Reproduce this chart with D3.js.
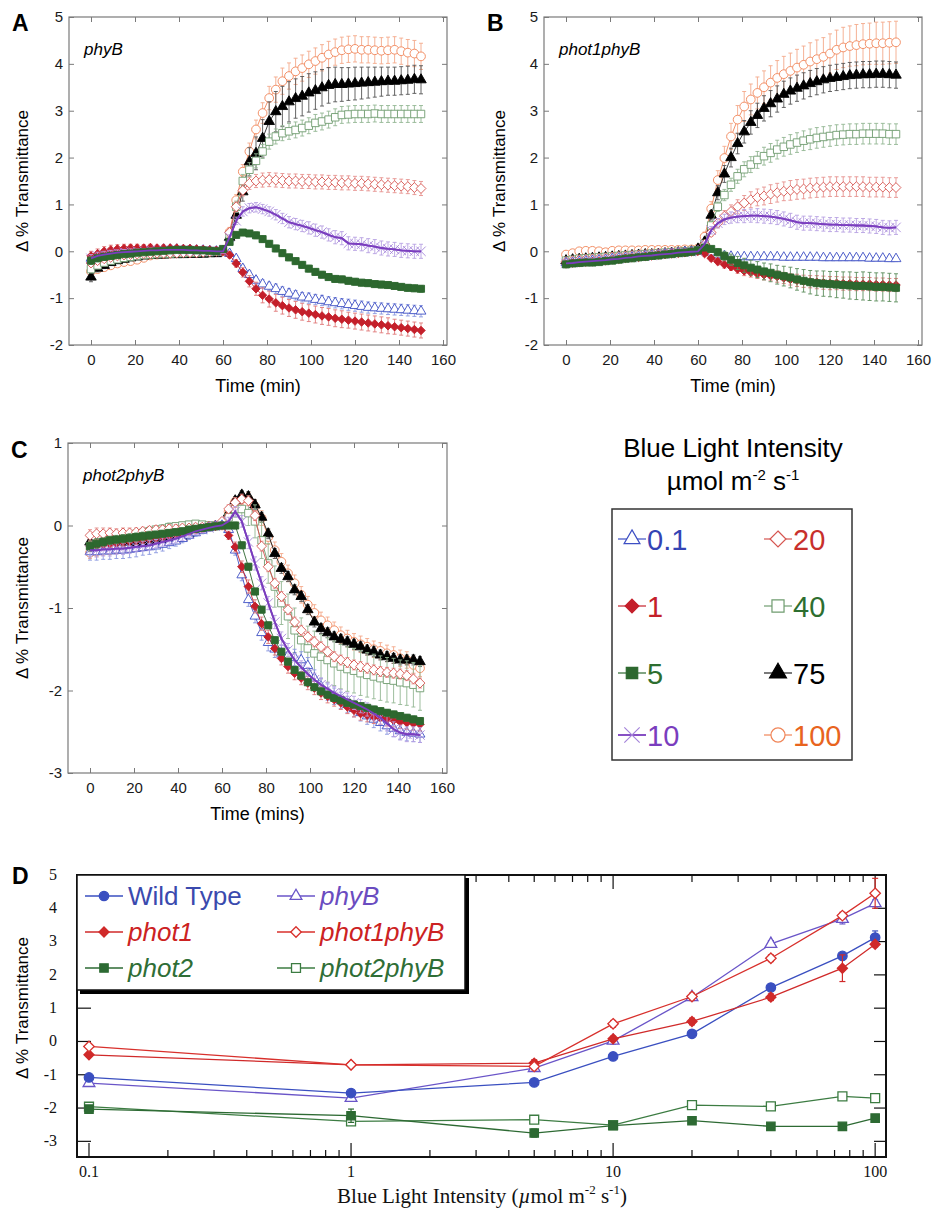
<!DOCTYPE html>
<html lang="en">
<head>
<meta charset="UTF-8">
<title>Blue light induced transmittance changes</title>
<script src="https://d3js.org/d3.v7.min.js"></script>
<style>
  body { margin: 0; background: #fff; }
  svg { display: block; }
</style>
</head>
<body>
<svg id="chart" width="940" height="1212"></svg>
<script>
// ---------- data ----------
const times = [0,3,6,9,12,15,18,21,24,27,30,33,36,39,42,45,48,51,54,57,
  60,63,66,69,72,75,78,81,84,87,90,93,96,99,102,105,108,111,114,117,
  120,123,126,129,132,135,138,141,144,147,150];
const timeTicks = [0,20,40,60,80,100,120,140,160];
const intensities = ["0.1","1","5","10","20","40","75","100"];

// panel A: phyB
const phyB_01 = [-0.15,-0.1,-0.07,-0.05,-0.03,-0.02,0,0.01,0.02,0.03,0.03,0.04,0.04,0.04,0.03,0.03,0.02,0.02,0.01,0,
  0,
  -0.05,-0.16,-0.37,-0.5,-0.62,-0.7,-0.75,-0.8,-0.86,-0.9,-0.94,-0.98,-1.0,-1.03,-1.05,-1.08,-1.1,-1.12,-1.14,-1.16,-1.18,-1.2,-1.21,-1.22,-1.23,-1.24,-1.25,-1.26,-1.27,-1.28];
const phyB_1 = [-0.1,-0.05,0,0.03,0.05,0.06,0.07,0.07,0.07,0.08,0.07,0.07,0.07,0.07,0.06,0.06,0.05,0.04,0.03,0.02,
  0,
  -0.08,-0.26,-0.45,-0.64,-0.8,-0.94,-1.02,-1.1,-1.16,-1.21,-1.25,-1.29,-1.32,-1.35,-1.38,-1.4,-1.43,-1.45,-1.47,-1.49,-1.51,-1.53,-1.55,-1.57,-1.59,-1.61,-1.63,-1.65,-1.67,-1.69];
const phyB_5 = [-0.2,-0.15,-0.12,-0.1,-0.08,-0.06,-0.05,-0.03,-0.02,-0.01,0,0.01,0.02,0.03,0.03,0.03,0.02,0.02,0.01,0,
  0.05,
  0.2,0.35,0.4,0.38,0.34,0.26,0.16,0.06,-0.04,-0.13,-0.21,-0.29,-0.37,-0.44,-0.5,-0.55,-0.59,-0.6,-0.63,-0.65,-0.67,-0.68,-0.7,-0.71,-0.72,-0.74,-0.76,-0.78,-0.79,-0.8];
const phyB_10 = [-0.15,-0.1,-0.07,-0.05,-0.03,-0.02,-0.01,0,0.01,0.02,0.02,0.03,0.03,0.03,0.03,0.02,0.02,0.01,0.01,0,
  0,
  0.3,0.65,0.85,0.92,0.94,0.9,0.85,0.78,0.7,0.62,0.58,0.54,0.5,0.45,0.41,0.35,0.3,0.28,0.17,0.16,0.15,0.12,0.1,0.07,0.05,0.04,0.02,0.01,0,0];
const phyB_20 = [-0.25,-0.2,-0.16,-0.13,-0.1,-0.08,-0.07,-0.06,-0.05,-0.05,-0.04,-0.04,-0.04,-0.04,-0.03,-0.03,-0.03,-0.02,-0.01,0,
  0,
  0.4,0.95,1.3,1.45,1.5,1.52,1.53,1.52,1.51,1.5,1.5,1.49,1.49,1.48,1.48,1.47,1.47,1.46,1.46,1.45,1.45,1.44,1.43,1.42,1.41,1.4,1.39,1.38,1.36,1.34];
const phyB_40 = [-0.38,-0.3,-0.24,-0.2,-0.17,-0.14,-0.12,-0.1,-0.08,-0.07,-0.06,-0.05,-0.05,-0.04,-0.04,-0.03,-0.03,-0.02,-0.02,-0.01,
  0,
  0.35,0.95,1.5,1.74,1.93,2.13,2.34,2.45,2.52,2.56,2.59,2.63,2.68,2.74,2.77,2.81,2.86,2.91,2.92,2.93,2.93,2.93,2.94,2.93,2.93,2.93,2.93,2.93,2.93,2.93];
const phyB_75 = [-0.55,-0.36,-0.3,-0.24,-0.2,-0.17,-0.14,-0.12,-0.1,-0.09,-0.08,-0.08,-0.07,-0.07,-0.07,-0.06,-0.06,-0.06,-0.05,-0.05,
  0,
  0.3,0.77,1.27,1.91,2.09,2.41,2.77,2.98,3.09,3.19,3.26,3.31,3.38,3.43,3.49,3.54,3.56,3.56,3.57,3.58,3.59,3.6,3.61,3.62,3.63,3.63,3.64,3.65,3.67,3.66];
const phyB_100 = [-0.43,-0.38,-0.34,-0.3,-0.26,-0.23,-0.21,-0.18,-0.14,-0.09,-0.07,-0.06,-0.05,-0.04,-0.04,-0.03,-0.03,-0.02,-0.01,-0.01,
  0,
  0.41,1.09,1.7,2.13,2.6,2.95,3.27,3.45,3.63,3.74,3.84,3.91,3.99,4.06,4.13,4.2,4.25,4.29,4.31,4.32,4.3,4.3,4.29,4.28,4.29,4.3,4.27,4.24,4.22,4.16];

const phyB_01_err = [0.08,0.07,0.07,0.06,0.06,0.06,0.05,0.05,0.05,0.05,0.05,0.05,0.05,0.05,0.05,0.05,0.05,0.04,0.04,0.04,
  0.04,
  0.05,0.06,0.07,0.08,0.08,0.09,0.09,0.1,0.1,0.1,0.1,0.1,0.11,0.11,0.11,0.11,0.11,0.11,0.12,0.12,0.12,0.12,0.12,0.12,0.12,0.12,0.12,0.12,0.12,0.12];
const phyB_1_err = [0.1,0.1,0.1,0.1,0.09,0.09,0.08,0.08,0.07,0.07,0.06,0.06,0.06,0.05,0.05,0.05,0.05,0.05,0.05,0.05,
  0.05,
  0.06,0.08,0.1,0.12,0.14,0.16,0.17,0.18,0.18,0.18,0.18,0.18,0.18,0.18,0.18,0.18,0.18,0.18,0.17,0.17,0.17,0.17,0.17,0.17,0.17,0.16,0.16,0.16,0.16,0.16];
const phyB_5_err = [0.08,0.07,0.07,0.06,0.06,0.05,0.05,0.05,0.05,0.05,0.05,0.05,0.05,0.05,0.05,0.05,0.04,0.04,0.04,0.04,
  0.04,
  0.05,0.06,0.06,0.06,0.07,0.07,0.07,0.07,0.07,0.07,0.07,0.07,0.07,0.07,0.07,0.07,0.07,0.07,0.07,0.07,0.07,0.07,0.07,0.07,0.07,0.07,0.07,0.07,0.07,0.07];
const phyB_10_err = [0.08,0.08,0.07,0.07,0.06,0.06,0.06,0.05,0.05,0.05,0.05,0.05,0.05,0.05,0.05,0.05,0.04,0.04,0.04,0.04,
  0.04,
  0.05,0.08,0.1,0.1,0.1,0.1,0.1,0.11,0.11,0.12,0.12,0.12,0.13,0.13,0.13,0.13,0.14,0.14,0.14,0.14,0.14,0.15,0.15,0.15,0.15,0.15,0.15,0.15,0.15,0.15];
const phyB_20_err = [0.07,0.07,0.06,0.06,0.06,0.05,0.05,0.05,0.05,0.05,0.05,0.05,0.05,0.05,0.05,0.04,0.04,0.04,0.04,0.04,
  0.04,
  0.08,0.1,0.12,0.13,0.14,0.15,0.15,0.15,0.15,0.15,0.15,0.15,0.15,0.15,0.15,0.15,0.15,0.15,0.15,0.15,0.15,0.15,0.15,0.15,0.15,0.15,0.15,0.15,0.15,0.15];
const phyB_40_err = [0.08,0.07,0.07,0.06,0.06,0.06,0.05,0.05,0.05,0.05,0.05,0.05,0.05,0.05,0.05,0.05,0.04,0.04,0.04,0.04,
  0.04,
  0.1,0.12,0.14,0.15,0.15,0.15,0.16,0.16,0.16,0.17,0.17,0.17,0.17,0.18,0.18,0.18,0.18,0.18,0.18,0.18,0.18,0.18,0.18,0.18,0.18,0.18,0.18,0.18,0.18,0.18];
const phyB_75_err = [0.1,0.08,0.07,0.06,0.06,0.05,0.05,0.05,0.05,0.05,0.05,0.05,0.05,0.05,0.05,0.05,0.04,0.04,0.04,0.04,
  0.04,
  0.1,0.15,0.2,0.3,0.35,0.4,0.42,0.43,0.43,0.43,0.42,0.42,0.41,0.4,0.39,0.38,0.37,0.36,0.35,0.35,0.34,0.33,0.32,0.31,0.3,0.3,0.3,0.3,0.3,0.3];
const phyB_100_err = [0.08,0.07,0.07,0.06,0.06,0.05,0.05,0.05,0.05,0.05,0.05,0.05,0.05,0.05,0.05,0.05,0.04,0.04,0.04,0.04,
  0.04,
  0.1,0.12,0.15,0.18,0.2,0.22,0.25,0.27,0.28,0.28,0.28,0.28,0.28,0.28,0.28,0.28,0.28,0.28,0.28,0.28,0.28,0.28,0.28,0.28,0.28,0.28,0.28,0.28,0.28,0.28];

// panel B: phot1phyB
const phot1phyB_01 = [-0.25,-0.24,-0.22,-0.21,-0.2,-0.19,-0.18,-0.16,-0.15,-0.14,-0.13,-0.12,-0.1,-0.09,-0.08,-0.06,-0.05,-0.04,-0.02,-0.01,
  0,
  0.05,-0.02,-0.08,-0.1,-0.11,-0.12,-0.12,-0.12,-0.12,-0.12,-0.12,-0.12,-0.13,-0.13,-0.13,-0.13,-0.13,-0.13,-0.14,-0.14,-0.14,-0.14,-0.14,-0.14,-0.14,-0.15,-0.15,-0.15,-0.16,-0.16];
const phot1phyB_1 = [-0.27,-0.25,-0.24,-0.23,-0.22,-0.21,-0.2,-0.18,-0.17,-0.15,-0.14,-0.13,-0.11,-0.1,-0.08,-0.07,-0.05,-0.04,-0.03,-0.01,
  0,
  -0.05,-0.15,-0.22,-0.28,-0.33,-0.38,-0.42,-0.45,-0.48,-0.5,-0.52,-0.54,-0.57,-0.6,-0.62,-0.64,-0.65,-0.66,-0.67,-0.68,-0.68,-0.69,-0.69,-0.7,-0.7,-0.7,-0.71,-0.71,-0.72,-0.72];
const phot1phyB_5 = [-0.28,-0.26,-0.25,-0.24,-0.24,-0.23,-0.21,-0.2,-0.18,-0.16,-0.15,-0.13,-0.12,-0.1,-0.09,-0.07,-0.06,-0.04,-0.03,-0.01,
  0.02,
  0.08,0.05,-0.02,-0.1,-0.18,-0.25,-0.3,-0.35,-0.39,-0.43,-0.46,-0.5,-0.53,-0.56,-0.6,-0.63,-0.66,-0.68,-0.69,-0.7,-0.71,-0.72,-0.73,-0.74,-0.74,-0.75,-0.76,-0.76,-0.77,-0.78];
const phot1phyB_10 = [-0.26,-0.25,-0.23,-0.22,-0.21,-0.2,-0.19,-0.17,-0.16,-0.14,-0.13,-0.11,-0.1,-0.09,-0.07,-0.06,-0.05,-0.03,-0.02,-0.01,
  0,
  0.15,0.45,0.6,0.68,0.72,0.74,0.75,0.76,0.76,0.75,0.74,0.72,0.69,0.66,0.62,0.6,0.6,0.59,0.58,0.57,0.57,0.56,0.56,0.55,0.55,0.54,0.53,0.51,0.5,0.51];
const phot1phyB_20 = [-0.22,-0.2,-0.18,-0.17,-0.16,-0.15,-0.14,-0.12,-0.11,-0.1,-0.09,-0.08,-0.07,-0.06,-0.05,-0.04,-0.03,-0.02,-0.01,0,
  0.02,
  0.15,0.4,0.6,0.75,0.85,0.95,1.03,1.1,1.15,1.18,1.22,1.25,1.28,1.3,1.32,1.33,1.35,1.36,1.37,1.38,1.38,1.38,1.38,1.38,1.38,1.37,1.37,1.37,1.36,1.36];
const phot1phyB_40 = [-0.2,-0.18,-0.16,-0.15,-0.14,-0.13,-0.12,-0.11,-0.1,-0.09,-0.08,-0.07,-0.06,-0.05,-0.04,-0.03,-0.02,-0.01,0,0.01,
  0.02,
  0.16,0.55,0.95,1.2,1.42,1.6,1.75,1.85,1.95,2.03,2.1,2.17,2.23,2.28,2.32,2.36,2.39,2.42,2.44,2.46,2.48,2.49,2.5,2.5,2.51,2.51,2.51,2.51,2.5,2.5];
const phot1phyB_75 = [-0.2,-0.18,-0.17,-0.16,-0.15,-0.14,-0.13,-0.12,-0.11,-0.1,-0.09,-0.08,-0.07,-0.07,-0.06,-0.05,-0.04,-0.03,-0.02,-0.01,
  0.05,
  0.2,0.77,1.25,1.65,2.0,2.3,2.55,2.75,2.9,3.05,3.15,3.25,3.35,3.42,3.48,3.53,3.58,3.62,3.66,3.69,3.71,3.73,3.75,3.76,3.77,3.77,3.78,3.78,3.77,3.76];
const phot1phyB_100 = [-0.07,-0.04,0,0.01,0.01,0,-0.02,0.01,0.02,0.02,0.02,0.02,0.03,0.03,0.03,0.03,0.03,0.03,0.04,0.04,
  0.06,
  0.31,0.91,1.52,1.99,2.45,2.81,3.09,3.24,3.38,3.5,3.6,3.7,3.78,3.85,3.92,3.98,4.05,4.1,4.15,4.22,4.3,4.35,4.38,4.4,4.42,4.43,4.44,4.44,4.45,4.46];

const phot1phyB_01_err = [0.05,0.05,0.05,0.05,0.05,0.05,0.05,0.05,0.05,0.05,0.04,0.04,0.04,0.04,0.04,0.04,0.04,0.04,0.04,0.04,
  0.04,
  0.04,0.04,0.05,0.05,0.05,0.05,0.05,0.05,0.05,0.05,0.05,0.05,0.05,0.05,0.05,0.05,0.05,0.05,0.06,0.06,0.06,0.06,0.06,0.06,0.06,0.06,0.06,0.06,0.06,0.06];
const phot1phyB_1_err = [0.05,0.05,0.05,0.05,0.05,0.05,0.05,0.05,0.05,0.05,0.04,0.04,0.04,0.04,0.04,0.04,0.04,0.04,0.04,0.04,
  0.04,
  0.05,0.06,0.07,0.08,0.08,0.09,0.1,0.1,0.1,0.11,0.11,0.12,0.12,0.12,0.13,0.13,0.13,0.14,0.14,0.14,0.14,0.14,0.14,0.14,0.14,0.14,0.14,0.14,0.14,0.14];
const phot1phyB_5_err = [0.06,0.06,0.06,0.05,0.05,0.05,0.05,0.05,0.05,0.05,0.04,0.04,0.04,0.04,0.04,0.04,0.04,0.04,0.04,0.04,
  0.04,
  0.05,0.06,0.08,0.1,0.12,0.14,0.15,0.16,0.17,0.18,0.19,0.2,0.21,0.22,0.23,0.24,0.25,0.26,0.27,0.27,0.28,0.28,0.29,0.29,0.3,0.3,0.3,0.3,0.3,0.3];
const phot1phyB_10_err = [0.05,0.05,0.05,0.05,0.05,0.05,0.05,0.05,0.05,0.05,0.04,0.04,0.04,0.04,0.04,0.04,0.04,0.04,0.04,0.04,
  0.04,
  0.05,0.08,0.1,0.11,0.12,0.13,0.14,0.14,0.15,0.15,0.15,0.15,0.15,0.15,0.15,0.15,0.15,0.15,0.15,0.15,0.15,0.15,0.15,0.15,0.15,0.15,0.15,0.15,0.15,0.15];
const phot1phyB_20_err = [0.05,0.05,0.05,0.05,0.05,0.05,0.05,0.05,0.05,0.05,0.04,0.04,0.04,0.04,0.04,0.04,0.04,0.04,0.04,0.04,
  0.04,
  0.05,0.08,0.1,0.12,0.14,0.15,0.16,0.17,0.18,0.19,0.2,0.2,0.2,0.21,0.21,0.21,0.21,0.21,0.21,0.21,0.21,0.21,0.21,0.21,0.21,0.21,0.21,0.21,0.21,0.21];
const phot1phyB_40_err = [0.05,0.05,0.05,0.05,0.05,0.05,0.05,0.05,0.05,0.05,0.04,0.04,0.04,0.04,0.04,0.04,0.04,0.04,0.04,0.04,
  0.04,
  0.05,0.08,0.1,0.12,0.14,0.15,0.16,0.17,0.18,0.19,0.2,0.2,0.2,0.21,0.21,0.21,0.22,0.22,0.22,0.22,0.22,0.22,0.22,0.22,0.22,0.22,0.22,0.22,0.22,0.22];
const phot1phyB_75_err = [0.05,0.05,0.05,0.05,0.05,0.05,0.05,0.05,0.05,0.05,0.04,0.04,0.04,0.04,0.04,0.04,0.04,0.04,0.04,0.04,
  0.04,
  0.05,0.1,0.15,0.18,0.2,0.22,0.24,0.25,0.26,0.27,0.28,0.28,0.28,0.28,0.28,0.28,0.28,0.28,0.28,0.28,0.28,0.28,0.28,0.28,0.28,0.28,0.28,0.28,0.28,0.28];
const phot1phyB_100_err = [0.06,0.06,0.06,0.06,0.05,0.05,0.05,0.05,0.05,0.05,0.05,0.05,0.05,0.05,0.05,0.05,0.05,0.05,0.05,0.05,
  0.05,
  0.1,0.15,0.2,0.25,0.28,0.3,0.32,0.33,0.34,0.35,0.36,0.37,0.38,0.38,0.39,0.4,0.4,0.41,0.41,0.42,0.42,0.43,0.43,0.44,0.44,0.44,0.45,0.45,0.45,0.45];

// panel C: phot2phyB
const phot2phyB_01 = [-0.32,-0.32,-0.31,-0.31,-0.3,-0.3,-0.29,-0.28,-0.27,-0.26,-0.25,-0.23,-0.21,-0.19,-0.16,-0.12,-0.09,-0.06,-0.03,-0.01,
  0,
  -0.05,-0.3,-0.6,-0.9,-1.1,-1.3,-1.42,-1.5,-1.55,-1.58,-1.6,-1.63,-1.7,-1.85,-1.95,-2.02,-2.07,-2.12,-2.17,-2.22,-2.27,-2.31,-2.35,-2.39,-2.43,-2.46,-2.49,-2.51,-2.52,-2.53];
const phot2phyB_1 = [-0.25,-0.24,-0.23,-0.22,-0.21,-0.2,-0.19,-0.18,-0.17,-0.16,-0.15,-0.14,-0.13,-0.11,-0.09,-0.07,-0.05,-0.04,-0.02,-0.01,
  0,
  -0.12,-0.26,-0.5,-0.74,-0.98,-1.19,-1.35,-1.49,-1.61,-1.71,-1.79,-1.85,-1.91,-1.97,-2.03,-2.07,-2.11,-2.15,-2.2,-2.24,-2.28,-2.3,-2.32,-2.33,-2.35,-2.36,-2.38,-2.39,-2.4,-2.41];
const phot2phyB_5 = [-0.25,-0.22,-0.2,-0.18,-0.17,-0.16,-0.15,-0.14,-0.13,-0.12,-0.11,-0.1,-0.09,-0.08,-0.07,-0.05,-0.04,-0.03,-0.02,-0.01,
  0,
  0,0,-0.24,-0.5,-0.8,-1.02,-1.21,-1.39,-1.53,-1.65,-1.75,-1.82,-1.9,-1.96,-2.01,-2.05,-2.09,-2.12,-2.15,-2.17,-2.19,-2.21,-2.23,-2.25,-2.27,-2.29,-2.31,-2.33,-2.35,-2.37];
const phot2phyB_10 = [-0.3,-0.3,-0.29,-0.29,-0.28,-0.28,-0.27,-0.26,-0.25,-0.24,-0.22,-0.2,-0.18,-0.16,-0.13,-0.1,-0.07,-0.05,-0.03,-0.01,
  0,
  0.05,0.17,0.05,-0.2,-0.46,-0.7,-0.94,-1.17,-1.37,-1.51,-1.63,-1.72,-1.8,-1.87,-1.93,-1.98,-2.03,-2.07,-2.11,-2.15,-2.19,-2.23,-2.28,-2.33,-2.4,-2.47,-2.51,-2.53,-2.53,-2.54];
const phot2phyB_20 = [-0.12,-0.1,-0.1,-0.09,-0.1,-0.09,-0.09,-0.08,-0.07,-0.06,-0.05,-0.05,-0.04,-0.04,-0.03,-0.03,-0.02,-0.02,-0.01,0,
  0.05,
  0.2,0.28,0.32,0.3,0.12,-0.25,-0.5,-0.7,-0.86,-1.02,-1.17,-1.27,-1.35,-1.41,-1.47,-1.53,-1.59,-1.63,-1.66,-1.69,-1.71,-1.73,-1.75,-1.77,-1.78,-1.79,-1.8,-1.82,-1.86,-1.91];
const phot2phyB_40 = [-0.25,-0.22,-0.2,-0.18,-0.16,-0.14,-0.12,-0.1,-0.09,-0.07,-0.05,-0.04,-0.02,-0.01,0,0.01,0.02,0.01,0,0,
  0,
  0.1,0.2,0.2,0.15,0.05,-0.18,-0.46,-0.74,-0.94,-1.1,-1.27,-1.39,-1.49,-1.55,-1.59,-1.63,-1.67,-1.71,-1.74,-1.76,-1.79,-1.81,-1.83,-1.85,-1.87,-1.88,-1.9,-1.91,-1.93,-1.97];
const phot2phyB_75 = [-0.2,-0.21,-0.18,-0.17,-0.19,-0.2,-0.2,-0.21,-0.22,-0.2,-0.2,-0.18,-0.17,-0.16,-0.14,-0.1,-0.06,-0.04,-0.02,-0.01,
  0,
  0.15,0.3,0.37,0.35,0.25,0.1,-0.1,-0.34,-0.52,-0.62,-0.78,-0.86,-1.02,-1.17,-1.25,-1.3,-1.35,-1.38,-1.41,-1.44,-1.47,-1.51,-1.53,-1.57,-1.59,-1.61,-1.63,-1.63,-1.63,-1.65];
const phot2phyB_100 = [-0.33,-0.31,-0.29,-0.29,-0.28,-0.27,-0.26,-0.24,-0.22,-0.2,-0.18,-0.16,-0.14,-0.11,-0.09,-0.06,-0.04,-0.02,-0.01,0,
  0,
  0.17,0.29,0.32,0.32,0.23,0.09,-0.14,-0.3,-0.44,-0.58,-0.7,-0.84,-0.96,-1.06,-1.15,-1.21,-1.27,-1.33,-1.37,-1.41,-1.44,-1.47,-1.5,-1.52,-1.55,-1.57,-1.61,-1.63,-1.69,-1.73];

const phot2phyB_01_err = [0.1,0.1,0.1,0.1,0.1,0.1,0.1,0.1,0.09,0.09,0.08,0.08,0.07,0.06,0.05,0.05,0.04,0.04,0.04,0.04,
  0.04,
  0.05,0.06,0.07,0.08,0.08,0.09,0.1,0.1,0.1,0.1,0.1,0.1,0.1,0.1,0.1,0.1,0.1,0.1,0.1,0.1,0.1,0.1,0.1,0.1,0.1,0.1,0.1,0.1,0.1,0.1];
const phot2phyB_1_err = [0.06,0.06,0.06,0.06,0.05,0.05,0.05,0.05,0.05,0.05,0.05,0.05,0.05,0.04,0.04,0.04,0.04,0.04,0.04,0.04,
  0.04,
  0.05,0.06,0.07,0.08,0.08,0.08,0.08,0.08,0.08,0.08,0.08,0.08,0.08,0.08,0.08,0.08,0.08,0.08,0.08,0.08,0.08,0.08,0.08,0.08,0.08,0.08,0.08,0.08,0.08,0.08];
const phot2phyB_5_err = [0.06,0.06,0.05,0.05,0.05,0.05,0.05,0.05,0.05,0.05,0.04,0.04,0.04,0.04,0.04,0.04,0.04,0.04,0.04,0.04,
  0.04,
  0.04,0.04,0.04,0.04,0.04,0.04,0.04,0.04,0.04,0.04,0.04,0.04,0.04,0.04,0.04,0.04,0.04,0.04,0.04,0.04,0.04,0.04,0.04,0.04,0.04,0.04,0.04,0.04,0.04,0.04];
const phot2phyB_10_err = [0.08,0.08,0.08,0.08,0.07,0.07,0.07,0.06,0.06,0.06,0.05,0.05,0.05,0.05,0.05,0.04,0.04,0.04,0.04,0.04,
  0.04,
  0.05,0.06,0.07,0.08,0.08,0.08,0.08,0.08,0.08,0.08,0.08,0.08,0.08,0.08,0.08,0.08,0.08,0.08,0.08,0.08,0.08,0.08,0.08,0.08,0.09,0.09,0.09,0.09,0.09,0.09];
const phot2phyB_20_err = [0.07,0.07,0.07,0.06,0.06,0.06,0.06,0.05,0.05,0.05,0.05,0.05,0.05,0.05,0.04,0.04,0.04,0.04,0.04,0.04,
  0.04,
  0.05,0.06,0.06,0.06,0.06,0.06,0.06,0.06,0.06,0.06,0.06,0.06,0.06,0.06,0.06,0.06,0.06,0.06,0.06,0.06,0.06,0.06,0.06,0.06,0.06,0.06,0.06,0.06,0.06,0.06];
const phot2phyB_40_err = [0.06,0.06,0.06,0.06,0.05,0.05,0.05,0.05,0.05,0.05,0.05,0.05,0.05,0.04,0.04,0.04,0.04,0.04,0.04,0.04,
  0.04,
  0.1,0.1,0.12,0.15,0.2,0.22,0.24,0.25,0.26,0.27,0.27,0.27,0.27,0.27,0.27,0.27,0.27,0.27,0.27,0.27,0.27,0.27,0.27,0.27,0.27,0.27,0.27,0.27,0.27,0.27];
const phot2phyB_75_err = [0.05,0.05,0.05,0.05,0.05,0.05,0.05,0.05,0.05,0.05,0.05,0.05,0.05,0.04,0.04,0.04,0.04,0.04,0.04,0.04,
  0.04,
  0.05,0.05,0.05,0.06,0.06,0.06,0.06,0.06,0.06,0.06,0.06,0.06,0.06,0.06,0.06,0.06,0.06,0.06,0.06,0.06,0.06,0.06,0.06,0.06,0.06,0.06,0.06,0.06,0.06,0.06];
const phot2phyB_100_err = [0.07,0.07,0.07,0.06,0.06,0.06,0.06,0.05,0.05,0.05,0.05,0.05,0.05,0.05,0.04,0.04,0.04,0.04,0.04,0.04,
  0.04,
  0.05,0.06,0.07,0.08,0.08,0.09,0.09,0.1,0.1,0.1,0.1,0.1,0.1,0.1,0.1,0.1,0.1,0.1,0.1,0.1,0.1,0.1,0.1,0.1,0.1,0.1,0.1,0.1,0.1,0.1];

// panel D: response vs light intensity
const doseIntensity = [0.1, 1, 5, 10, 20, 40, 75, 100];
const doseTicks = [0.1, 1, 10, 100];
const doseYTicks = [-3, -2, -1, 0, 1, 2, 3, 4, 5];
const wildType      = [-1.08, -1.55, -1.23, -0.45, 0.23, 1.62, 2.57, 3.12];
const wildType_err  = [0.05, 0.08, 0.05, 0.1, 0.08, 0.06, 0.08, 0.2];
const phyB          = [-1.25, -1.7, -0.8, 0.02, 1.33, 2.93, 3.68, 4.15];
const phyB_err      = [0.05, 0.1, 0.08, 0.1, 0.1, 0.1, 0.15, 0.1];
const phot1         = [-0.4, -0.7, -0.65, 0.08, 0.6, 1.33, 2.2, 2.92];
const phot1_err     = [0.05, 0.05, 0.1, 0.08, 0.1, 0.1, 0.4, 0.08];
const phot1phyB     = [-0.15, -0.7, -0.75, 0.53, 1.35, 2.5, 3.78, 4.45];
const phot1phyB_err = [0.05, 0.05, 0.1, 0.1, 0.1, 0.1, 0.1, 0.45];
const phot2         = [-2.03, -2.23, -2.75, -2.53, -2.38, -2.55, -2.55, -2.3];
const phot2_err     = [0.05, 0.2, 0.12, 0.08, 0.1, 0.08, 0.05, 0.1];
const phot2phyB     = [-1.96, -2.4, -2.35, -2.51, -1.91, -1.95, -1.65, -1.7];
const phot2phyB_err = [0.05, 0.05, 0.05, 0.1, 0.05, 0.12, 0.05, 0.05];

// ---------- drawing ----------
const svg = d3.select("#chart");
const sans = "'Liberation Sans', Arial, Helvetica, sans-serif";
const serif = "'Liberation Serif', 'Times New Roman', serif";

// marker style per blue-light intensity
const styles = {
  "0.1": {shape: d3.symbolTriangle, size: 42, fill: "#fff", stroke: "#3d4fc4", line: "#3d4fc4", err: "#8a97e0", text: "#3444b4"},
  "1":   {shape: d3.symbolDiamond2, size: 46, fill: "#c41f2a", stroke: "#c41f2a", line: "#c41f2a", err: "#e07878", text: "#c41f2a"},
  "5":   {shape: d3.symbolSquare, size: 50, fill: "#2d682f", stroke: "#2d682f", line: "#2d682f", err: "#5c8d5c", text: "#2d6e30"},
  "10":  {shape: d3.symbolTimes, size: 60, fill: "none", stroke: "#a585da", line: "#7a3dbe", err: "#b7a0e2", text: "#7a3dbe", lw: 1.8},
  "20":  {shape: d3.symbolDiamond2, size: 62, fill: "#fff", stroke: "#d65550", line: "#d65550", err: "#e79390", text: "#c8302c"},
  "40":  {shape: d3.symbolSquare, size: 56, fill: "#fff", stroke: "#6f9c6f", line: "#6f9c6f", err: "#93b793", text: "#2d6e30"},
  "75":  {shape: d3.symbolTriangle, size: 48, fill: "#000", stroke: "#000", line: "#222", err: "#555", text: "#000"},
  "100": {shape: d3.symbolCircle, size: 60, fill: "#fff", stroke: "#f08558", line: "#f08558", err: "#f4a98a", text: "#e8641e"}
};
const drawOrder = ["100", "75", "40", "20", "0.1", "1", "10", "5"];

const panels = [
  {letter: "A", name: "phyB", xTitle: "Time (min)", left: 69, right: 447, top: 17, bottom: 345,
   yDomain: [-2, 5], yTicks: [-2, -1, 0, 1, 2, 3, 4, 5], letterX: 12, letterY: 31, ylabX: 22,
   series: {"0.1": [phyB_01, phyB_01_err], "1": [phyB_1, phyB_1_err], "5": [phyB_5, phyB_5_err], "10": [phyB_10, phyB_10_err],
            "20": [phyB_20, phyB_20_err], "40": [phyB_40, phyB_40_err], "75": [phyB_75, phyB_75_err], "100": [phyB_100, phyB_100_err]}},
  {letter: "B", name: "phot1phyB", xTitle: "Time (min)", left: 544, right: 922, top: 17, bottom: 345,
   yDomain: [-2, 5], yTicks: [-2, -1, 0, 1, 2, 3, 4, 5], letterX: 487, letterY: 31, ylabX: 499,
   series: {"0.1": [phot1phyB_01, phot1phyB_01_err], "1": [phot1phyB_1, phot1phyB_1_err], "5": [phot1phyB_5, phot1phyB_5_err], "10": [phot1phyB_10, phot1phyB_10_err],
            "20": [phot1phyB_20, phot1phyB_20_err], "40": [phot1phyB_40, phot1phyB_40_err], "75": [phot1phyB_75, phot1phyB_75_err], "100": [phot1phyB_100, phot1phyB_100_err]}},
  {letter: "C", name: "phot2phyB", xTitle: "Time (mins)", left: 68, right: 447, top: 443, bottom: 773,
   yDomain: [-3, 1], yTicks: [-3, -2, -1, 0, 1], letterX: 11, letterY: 458, ylabX: 22,
   series: {"0.1": [phot2phyB_01, phot2phyB_01_err], "1": [phot2phyB_1, phot2phyB_1_err], "5": [phot2phyB_5, phot2phyB_5_err], "10": [phot2phyB_10, phot2phyB_10_err],
            "20": [phot2phyB_20, phot2phyB_20_err], "40": [phot2phyB_40, phot2phyB_40_err], "75": [phot2phyB_75, phot2phyB_75_err], "100": [phot2phyB_100, phot2phyB_100_err]}}
];

function styleAxis(sel, size, family) {
  sel.select(".domain").remove();
  sel.selectAll("line").attr("stroke", "#7a7a7a");
  sel.selectAll("text").attr("font-size", size).attr("font-family", family).attr("fill", "#1a1a1a");
}

function drawTimePanel(cfg) {
  const g = svg.append("g");
  // 0 min sits 22 px inside the frame, 2.2 px per minute
  const x = d3.scaleLinear().domain([-10, -10 + (cfg.right - cfg.left) / 2.2]).range([cfg.left, cfg.right]);
  const y = d3.scaleLinear().domain(cfg.yDomain).range([cfg.bottom, cfg.top]);

  g.append("g").attr("transform", `translate(0,${cfg.bottom})`)
    .call(d3.axisBottom(x).tickValues(timeTicks).tickSize(-5).tickPadding(9))
    .call(s => styleAxis(s, 15, sans));
  g.append("g").attr("transform", `translate(0,${cfg.top})`)
    .call(d3.axisTop(x).tickValues(timeTicks).tickSize(-5).tickFormat(""))
    .call(s => styleAxis(s, 15, sans));
  g.append("g").attr("transform", `translate(${cfg.left},0)`)
    .call(d3.axisLeft(y).tickValues(cfg.yTicks).tickSize(-5).tickPadding(6).tickFormat(d3.format("d")))
    .call(s => styleAxis(s, 15, sans));
  g.append("g").attr("transform", `translate(${cfg.right},0)`)
    .call(d3.axisRight(y).tickValues(cfg.yTicks).tickSize(-5).tickFormat(""))
    .call(s => styleAxis(s, 15, sans));
  g.selectAll(".tick text").text(function() { return this.textContent.replace("\u2212", "-"); });

  g.append("rect").attr("x", cfg.left).attr("y", cfg.top)
    .attr("width", cfg.right - cfg.left).attr("height", cfg.bottom - cfg.top)
    .attr("fill", "none").attr("stroke", "#7a7a7a").attr("stroke-width", 1.2);

  const plot = g.append("g");
  drawOrder.forEach(k => {
    const st = styles[k];
    const [vals, errs] = cfg.series[k];
    const pts = vals.map((v, i) => ({t: times[i], v: v, e: errs[i]}));
    const sg = plot.append("g");
    const eb = sg.append("g").attr("stroke", st.err).attr("stroke-width", 0.9);
    pts.forEach(p => {
      const cx = x(p.t);
      eb.append("line").attr("x1", cx).attr("x2", cx).attr("y1", y(p.v - p.e)).attr("y2", y(p.v + p.e));
      eb.append("line").attr("x1", cx - 2).attr("x2", cx + 2).attr("y1", y(p.v + p.e)).attr("y2", y(p.v + p.e));
      eb.append("line").attr("x1", cx - 2).attr("x2", cx + 2).attr("y1", y(p.v - p.e)).attr("y2", y(p.v - p.e));
    });
    sg.append("path").datum(pts)
      .attr("d", d3.line().x(d => x(d.t)).y(d => y(d.v)))
      .attr("fill", "none").attr("stroke", st.line).attr("stroke-width", st.lw || 0.9);
    sg.selectAll(".m").data(pts).enter().append("path")
      .attr("transform", d => `translate(${x(d.t)},${y(d.v)})`)
      .attr("d", d3.symbol().type(st.shape).size(st.size))
      .attr("fill", st.fill).attr("stroke", st.stroke).attr("stroke-width", 0.9);
  });
  // purple trace is drawn over its markers
  plot.append("path").datum(cfg.series["10"][0])
    .attr("d", d3.line().x((d, i) => x(times[i])).y(d => y(d)))
    .attr("fill", "none").attr("stroke", styles["10"].line).attr("stroke-width", 1.8);

  g.append("text").attr("x", cfg.letterX).attr("y", cfg.letterY).text(cfg.letter)
    .attr("font-family", sans).attr("font-weight", "bold").attr("font-size", 23);
  g.append("text").attr("x", cfg.left + 15).attr("y", cfg.top + 38).text(cfg.name)
    .attr("font-family", sans).attr("font-style", "italic").attr("font-size", 17);
  g.append("text").attr("x", (cfg.left + cfg.right) / 2).attr("y", cfg.bottom + 47)
    .attr("text-anchor", "middle").attr("font-family", sans).attr("font-size", 18).text(cfg.xTitle);
  g.append("text").attr("transform", `translate(${cfg.ylabX},${(cfg.top + cfg.bottom) / 2}) rotate(-90)`)
    .attr("text-anchor", "middle").attr("dy", "0.35em").attr("font-family", sans).attr("font-size", 17)
    .text("\u0394 % Transmittance");
}

panels.forEach(drawTimePanel);

// ---- intensity legend for A-C ----
const lg = svg.append("g");
lg.append("text").attr("x", 733).attr("y", 457).attr("text-anchor", "middle")
  .attr("font-family", sans).attr("font-size", 26).text("Blue Light Intensity");
const unit = lg.append("text").attr("x", 733).attr("y", 490).attr("text-anchor", "middle")
  .attr("font-family", sans).attr("font-size", 26);
unit.append("tspan").text("\u00b5mol m");
unit.append("tspan").attr("font-size", 15).attr("dy", -10).text("-2");
unit.append("tspan").attr("dy", 10).text(" s");
unit.append("tspan").attr("font-size", 15).attr("dy", -10).text("-1");
lg.append("rect").attr("x", 612).attr("y", 509).attr("width", 240).attr("height", 251)
  .attr("fill", "none").attr("stroke", "#333").attr("stroke-width", 1.5);
const legendRows = [539, 606, 673, 735];
intensities.forEach((k, i) => {
  const col = i < 4 ? 0 : 1;
  const row = i % 4;
  const st = styles[k];
  const cx = col === 0 ? 632 : 778;
  const cy = legendRows[row];
  lg.append("line").attr("x1", cx - 14).attr("x2", cx + 14).attr("y1", cy).attr("y2", cy)
    .attr("stroke", st.line).attr("stroke-width", st.lw || 1.2);
  lg.append("path").attr("transform", `translate(${cx},${cy})`)
    .attr("d", d3.symbol().type(st.shape).size(st.size * 2.6))
    .attr("fill", st.fill).attr("stroke", st.stroke).attr("stroke-width", 1.2);
  lg.append("text").attr("x", cx + 15).attr("y", cy + 11).attr("font-family", sans)
    .attr("font-size", 29).attr("fill", st.text).text(k);
});

// ---- panel D ----
const D = {left: 77, right: 886, top: 875, bottom: 1157};
const xD = d3.scaleLog().domain([0.09, 110]).range([D.left, D.right]);
const yD = d3.scaleLinear().domain([-3.47, 5]).range([D.bottom, D.top]);
const gD = svg.append("g");

const isMajor = v => Math.abs(Math.log10(v) - Math.round(Math.log10(v))) < 1e-6;
xD.ticks().forEach(v => {
  const len = isMajor(v) ? 14 : 7;
  gD.append("line").attr("x1", xD(v)).attr("x2", xD(v)).attr("y1", D.bottom).attr("y2", D.bottom - len)
    .attr("stroke", "#111").attr("stroke-width", 1.2);
  gD.append("line").attr("x1", xD(v)).attr("x2", xD(v)).attr("y1", D.top).attr("y2", D.top + len)
    .attr("stroke", "#111").attr("stroke-width", 1.2);
});
doseYTicks.forEach(v => {
  gD.append("line").attr("x1", D.left).attr("x2", D.left + 14).attr("y1", yD(v)).attr("y2", yD(v))
    .attr("stroke", "#111").attr("stroke-width", 1.2);
  gD.append("line").attr("x1", D.right).attr("x2", D.right - 12).attr("y1", yD(v)).attr("y2", yD(v))
    .attr("stroke", "#111").attr("stroke-width", 1.2);
  gD.append("text").attr("x", 57).attr("y", yD(v)).attr("dy", "0.3em").attr("text-anchor", "end")
    .attr("font-family", serif).attr("font-size", 16).attr("fill", "#111").text(v);
});
doseTicks.forEach(v => {
  gD.append("text").attr("x", xD(v)).attr("y", D.bottom + 20).attr("text-anchor", "middle")
    .attr("font-family", serif).attr("font-size", 16).attr("fill", "#111").text(v);
});
gD.append("rect").attr("x", D.left).attr("y", D.top).attr("width", D.right - D.left).attr("height", D.bottom - D.top)
  .attr("fill", "none").attr("stroke", "#111").attr("stroke-width", 2);

const doseSeries = [
  {name: "phot2phyB", vals: phot2phyB, errs: phot2phyB_err, shape: d3.symbolSquare, size: 80, fill: "#fff", color: "#3c7c42", text: "#2f6e36", italic: true},
  {name: "phot2", vals: phot2, errs: phot2_err, shape: d3.symbolSquare, size: 70, fill: "#2d6a33", color: "#2d6a33", text: "#2f6e36", italic: true},
  {name: "phyB", vals: phyB, errs: phyB_err, shape: d3.symbolTriangle, size: 60, fill: "#fff", color: "#6a55c8", text: "#6a4cc0", italic: true},
  {name: "Wild Type", vals: wildType, errs: wildType_err, shape: d3.symbolCircle, size: 70, fill: "#3a4fc0", color: "#3a4fc0", text: "#3a4aae", italic: false},
  {name: "phot1", vals: phot1, errs: phot1_err, shape: d3.symbolDiamond2, size: 64, fill: "#d02a2a", color: "#d02a2a", text: "#cc2222", italic: true},
  {name: "phot1phyB", vals: phot1phyB, errs: phot1phyB_err, shape: d3.symbolDiamond2, size: 70, fill: "#fff", color: "#d8302c", text: "#cc2222", italic: true}
];
doseSeries.forEach(s => {
  const pts = s.vals.map((v, i) => ({x: doseIntensity[i], v: v, e: s.errs[i]}));
  const sg = gD.append("g");
  pts.forEach(p => {
    const cx = xD(p.x);
    sg.append("line").attr("x1", cx).attr("x2", cx).attr("y1", yD(p.v - p.e)).attr("y2", yD(p.v + p.e))
      .attr("stroke", s.color).attr("stroke-width", 1.2);
    [p.v - p.e, p.v + p.e].forEach(ev => sg.append("line").attr("x1", cx - 3).attr("x2", cx + 3)
      .attr("y1", yD(ev)).attr("y2", yD(ev)).attr("stroke", s.color).attr("stroke-width", 1.2));
  });
  sg.append("path").datum(pts).attr("d", d3.line().x(d => xD(d.x)).y(d => yD(d.v)))
    .attr("fill", "none").attr("stroke", s.color).attr("stroke-width", 1.3);
  sg.selectAll(".m").data(pts).enter().append("path")
    .attr("transform", d => `translate(${xD(d.x)},${yD(d.v)})`)
    .attr("d", d3.symbol().type(s.shape).size(s.size))
    .attr("fill", s.fill).attr("stroke", s.color).attr("stroke-width", 1.3);
});

// legend box of panel D with drop shadow
gD.append("rect").attr("x", 80).attr("y", 878).attr("width", 389).attr("height", 116).attr("fill", "#000");
gD.append("rect").attr("x", 77).attr("y", 875).attr("width", 388).attr("height", 115)
  .attr("fill", "#fff").attr("stroke", "#111").attr("stroke-width", 1.5);
const dLegendOrder = ["Wild Type", "phyB", "phot1", "phot1phyB", "phot2", "phot2phyB"];
dLegendOrder.forEach((n, i) => {
  const s = doseSeries.find(d => d.name === n);
  const cx = i % 2 === 0 ? 104 : 296;
  const cy = [896, 932, 968][Math.floor(i / 2)];
  gD.append("line").attr("x1", cx - 19).attr("x2", cx + 19).attr("y1", cy).attr("y2", cy)
    .attr("stroke", s.color).attr("stroke-width", 1.3);
  gD.append("path").attr("transform", `translate(${cx},${cy})`)
    .attr("d", d3.symbol().type(s.shape).size(s.size))
    .attr("fill", s.fill).attr("stroke", s.color).attr("stroke-width", 1.3);
  gD.append("text").attr("x", cx + 24).attr("y", cy + 9).attr("font-family", sans).attr("font-size", 26)
    .attr("font-style", s.italic ? "italic" : "normal").attr("fill", s.text).text(n);
});

gD.append("text").attr("x", 12).attr("y", 884).attr("font-family", sans).attr("font-weight", "bold")
  .attr("font-size", 23).text("D");
gD.append("text").attr("transform", `translate(22,1008) rotate(-90)`).attr("text-anchor", "middle")
  .attr("dy", "0.35em").attr("font-family", sans).attr("font-size", 17).text("\u0394 % Transmittance");
const xt = gD.append("text").attr("x", 482).attr("y", 1203).attr("text-anchor", "middle")
  .attr("font-family", serif).attr("font-size", 21).attr("fill", "#111");
xt.append("tspan").text("Blue Light Intensity (");
xt.append("tspan").attr("font-style", "italic").text("\u00b5");
xt.append("tspan").text("mol m");
xt.append("tspan").attr("font-size", 13).attr("dy", -9).text("-2");
xt.append("tspan").attr("dy", 9).text(" s");
xt.append("tspan").attr("font-size", 13).attr("dy", -9).text("-1");
xt.append("tspan").attr("dy", 9).text(")");
</script>
</body>
</html>
